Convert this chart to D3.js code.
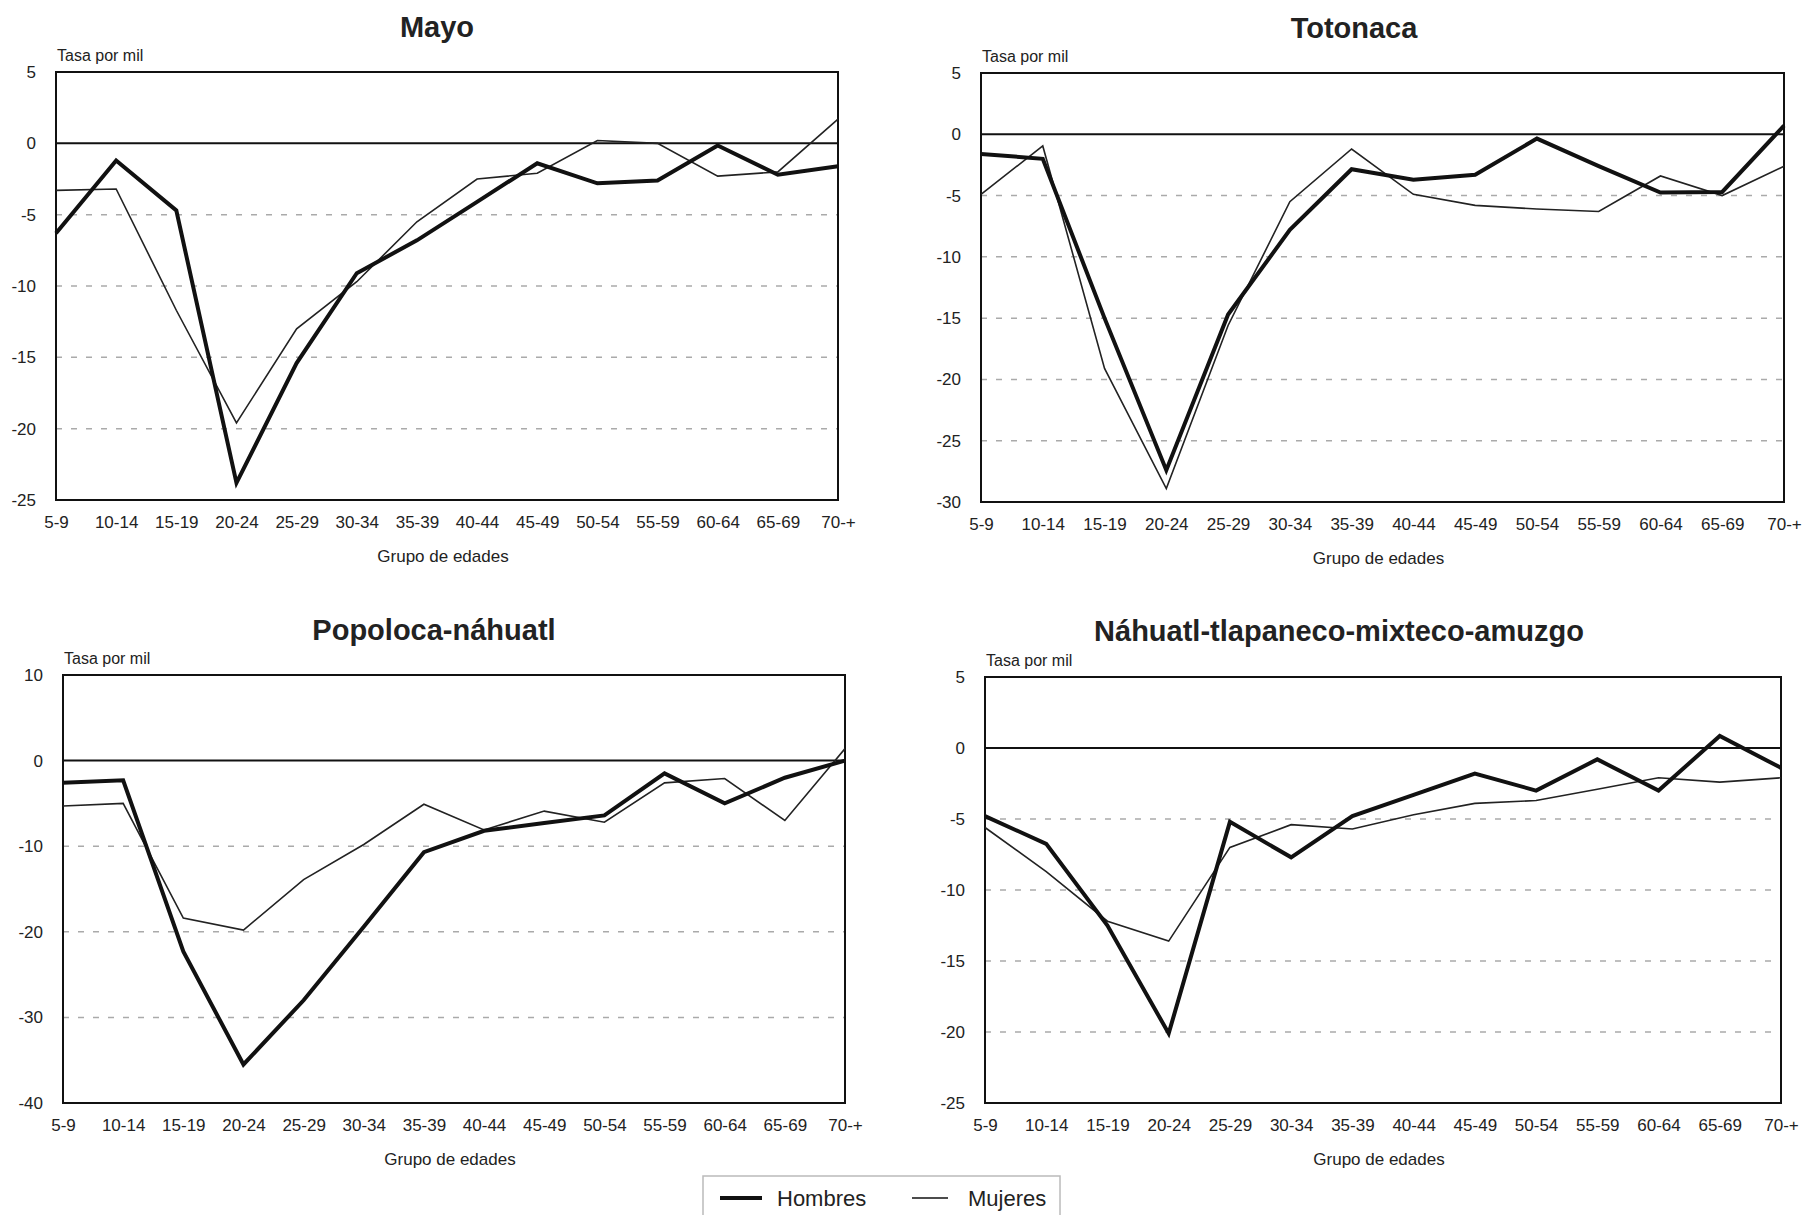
<!DOCTYPE html>
<head>
<meta charset="utf-8">
<title> Tasa por mil por grupo de edades </title>
<script type="text/javascript" src="https://d3js.org/d3.v7.min.js"></script>

<style>
body {
	margin: 0;
	background: #fff;
	}

text {
	font-family: "Liberation Sans", Arial, sans-serif;
	fill: #222;
	}

.axis text {
	font-size: 17px;
	}

.axis path,
.axis line {
	display: none;
	}

.grid {
	stroke: #aaa;
	stroke-width: 1.5;
	stroke-dasharray: 6,9;
	}
</style>

</head>
<body>

<script>
// grupos de edad (eje x)
var ageGroups = ["5-9", "10-14", "15-19", "20-24", "25-29", "30-34", "35-39",
	"40-44", "45-49", "50-54", "55-59", "60-64", "65-69", "70-+"];

// valores, tasa por mil
var mayoHombres = [-6.3, -1.2, -4.7, -23.8, -15.4, -9.1, -6.8, -4.1, -1.4, -2.8, -2.6, -0.15, -2.2, -1.6];
var mayoMujeres = [-3.3, -3.2, -11.7, -19.6, -13.0, -9.7, -5.5, -2.5, -2.1, 0.2, 0.0, -2.3, -2.0, 1.7];

var totoHombres = [-1.6, -2.0, -15.0, -27.4, -14.7, -7.8, -2.85, -3.7, -3.3, -0.35, -2.6, -4.75, -4.7, 0.7];
var totoMujeres = [-4.9, -0.95, -19.1, -28.9, -15.6, -5.5, -1.2, -4.9, -5.8, -6.1, -6.3, -3.4, -5.0, -2.6];

var popoHombres = [-2.6, -2.3, -22.3, -35.5, -28.0, -19.4, -10.7, -8.2, -7.3, -6.4, -1.5, -5.0, -2.0, 0.0];
var popoMujeres = [-5.3, -5.0, -18.4, -19.8, -13.9, -9.8, -5.1, -8.1, -5.9, -7.2, -2.6, -2.1, -7.0, 1.4];

var nahuHombres = [-4.8, -6.75, -12.5, -20.1, -5.2, -7.7, -4.8, -3.3, -1.8, -3.0, -0.8, -3.0, 0.85, -1.4];
var nahuMujeres = [-5.6, -8.7, -12.2, -13.6, -7.0, -5.4, -5.7, -4.7, -3.9, -3.7, -2.9, -2.1, -2.4, -2.1];

var mayoTicks = [5, 0, -5, -10, -15, -20, -25];
var totoTicks = [5, 0, -5, -10, -15, -20, -25, -30];
var popoTicks = [10, 0, -10, -20, -30, -40];
var nahuTicks = [5, 0, -5, -10, -15, -20, -25];

var legendLabels = ["Hombres", "Mujeres"];

// layout de cada panel
var panels = [
	{title: "Mayo", hombres: mayoHombres, mujeres: mayoMujeres, ticks: mayoTicks,
		left: 56, right: 838, top: 72, bottom: 500, titleX: 437, titleY: 37},
	{title: "Totonaca", hombres: totoHombres, mujeres: totoMujeres, ticks: totoTicks,
		left: 981, right: 1784, top: 73, bottom: 502, titleX: 1354, titleY: 38},
	{title: "Popoloca-náhuatl", hombres: popoHombres, mujeres: popoMujeres, ticks: popoTicks,
		left: 63, right: 845, top: 675, bottom: 1103, titleX: 434, titleY: 640},
	{title: "Náhuatl-tlapaneco-mixteco-amuzgo", hombres: nahuHombres, mujeres: nahuMujeres, ticks: nahuTicks,
		left: 985, right: 1781, top: 677, bottom: 1103, titleX: 1339, titleY: 641}
];

var svg = d3.select("body").append("svg")
	.attr("width", 1802)
	.attr("height", 1215);

function drawPanel(p) {
	var g = svg.append("g");

	var x = d3.scalePoint()
		.domain(ageGroups)
		.range([p.left, p.right])
		.padding(0);

	var y = d3.scaleLinear()
		.domain(d3.extent(p.ticks))
		.range([p.bottom, p.top]);

	// lineas de rejilla punteadas
	g.selectAll(".grid").data(p.ticks.filter(function(t) {
			return t != 0 && t != y.domain()[0] && t != y.domain()[1];
		}))
		.enter().append("line")
		.attr("class", "grid")
		.attr("x1", p.left)
		.attr("x2", p.right)
		.attr("y1", function(d) { return y(d); })
		.attr("y2", function(d) { return y(d); });

	// marco
	g.append("rect")
		.attr("x", p.left)
		.attr("y", p.top)
		.attr("width", p.right - p.left)
		.attr("height", p.bottom - p.top)
		.style("fill", "none")
		.style("stroke", "#111")
		.style("stroke-width", 2);

	// linea del cero
	g.append("line")
		.attr("x1", p.left)
		.attr("x2", p.right)
		.attr("y1", y(0))
		.attr("y2", y(0))
		.style("stroke", "#111")
		.style("stroke-width", 2);

	// guion normal en vez del signo menos unicode
	g.append("g")
		.attr("class", "axis")
		.attr("transform", "translate(" + p.left + ",0)")
		.call(d3.axisLeft(y).tickValues(p.ticks).tickSize(0).tickPadding(20)
			.tickFormat(function(d) { return String(d); }));

	g.append("g")
		.attr("class", "axis")
		.attr("transform", "translate(0," + p.bottom + ")")
		.call(d3.axisBottom(x).tickSize(0).tickPadding(16));

	var line = d3.line()
		.x(function(d, i) { return x(ageGroups[i]); })
		.y(function(d) { return y(d); });

	g.append("path")
		.datum(p.mujeres)
		.attr("d", line)
		.style("fill", "none")
		.style("stroke", "#222")
		.style("stroke-width", 1.6)
		.style("stroke-linejoin", "miter");

	g.append("path")
		.datum(p.hombres)
		.attr("d", line)
		.style("fill", "none")
		.style("stroke", "#111")
		.style("stroke-width", 4)
		.style("stroke-linejoin", "miter");

	g.append("text")
		.attr("x", p.titleX)
		.attr("y", p.titleY)
		.attr("text-anchor", "middle")
		.style("font-size", "29px")
		.style("font-weight", "bold")
		.text(p.title);

	g.append("text")
		.attr("x", p.left + 1)
		.attr("y", p.top - 11)
		.style("font-size", "16px")
		.text("Tasa por mil");

	g.append("text")
		.attr("x", (p.left + p.right) / 2 - 4)
		.attr("y", p.bottom + 62)
		.attr("text-anchor", "middle")
		.style("font-size", "17px")
		.text("Grupo de edades");
}

panels.forEach(drawPanel);

// leyenda
var legend = svg.append("g");
legend.append("rect")
	.attr("x", 703)
	.attr("y", 1176)
	.attr("width", 357)
	.attr("height", 60)
	.style("fill", "#fff")
	.style("stroke", "#bbb")
	.style("stroke-width", 1.5);

var legendX = [720, 912];
var legendW = [4, 1.6];
legend.selectAll(".key").data(legendLabels).enter().append("line")
	.attr("x1", function(d, i) { return legendX[i]; })
	.attr("x2", function(d, i) { return legendX[i] + (i == 0 ? 42 : 36); })
	.attr("y1", 1198)
	.attr("y2", 1198)
	.style("stroke", "#111")
	.style("stroke-width", function(d, i) { return legendW[i]; });

legend.selectAll(".lab").data(legendLabels).enter().append("text")
	.attr("x", function(d, i) { return legendX[i] + (i == 0 ? 57 : 56); })
	.attr("y", 1206)
	.style("font-size", "22px")
	.text(function(d) { return d; });
</script>

</body>
